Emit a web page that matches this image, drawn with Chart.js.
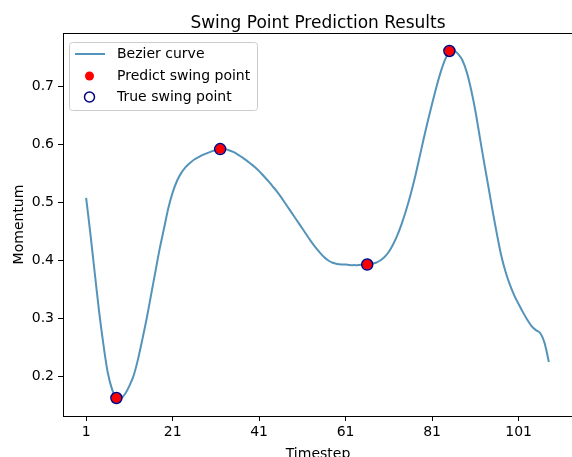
<!DOCTYPE html>
<html lang="en">
<head>
<meta charset="UTF-8">
<title>Swing Point Prediction Results</title>
<script src="https://cdn.jsdelivr.net/npm/chart.js@4.4.1/dist/chart.umd.min.js"></script>
<style>
  html, body { margin: 0; padding: 0; background: #fff; }
  #wrap { width: 572px; height: 457px; position: relative; }
</style>
</head>
<body>
<div id="wrap"><canvas id="chart"></canvas></div>
<script>
// Bezier-smoothed momentum, one value per timestep starting at 1
const momentum = [
  0.508, 0.445, 0.378, 0.312, 0.255, 0.207, 0.178, 0.163, 0.162, 0.170,
  0.184, 0.202, 0.230, 0.264, 0.300, 0.340, 0.380, 0.420, 0.455, 0.490,
  0.517, 0.537, 0.551, 0.561, 0.568, 0.574, 0.578, 0.582, 0.585, 0.588,
  0.590, 0.592, 0.592, 0.590, 0.587, 0.583, 0.578, 0.573, 0.567, 0.561,
  0.554, 0.546, 0.538, 0.529, 0.520, 0.510, 0.499, 0.488, 0.477, 0.466,
  0.455, 0.444, 0.433, 0.423, 0.414, 0.406, 0.400, 0.396, 0.394, 0.393,
  0.393, 0.392, 0.392, 0.392, 0.393, 0.393, 0.394, 0.396, 0.400, 0.406,
  0.415, 0.428, 0.444, 0.464, 0.487, 0.513, 0.542, 0.575, 0.608, 0.640,
  0.670, 0.699, 0.725, 0.746, 0.760, 0.762, 0.756, 0.745, 0.725, 0.695,
  0.658, 0.614, 0.570, 0.528, 0.485, 0.445, 0.408, 0.380, 0.358, 0.340,
  0.325, 0.311, 0.298, 0.287, 0.280, 0.275, 0.258, 0.225
];
const firstStep = 1;

// swing points (predicted and ground truth coincide)
const swingSteps = [8, 32, 66, 85];
const predictMomentum = [0.163, 0.592, 0.393, 0.761];
const trueMomentum = [0.163, 0.592, 0.393, 0.761];

const xTicks = [1, 21, 41, 61, 81, 101];
const yTicks = [0.2, 0.3, 0.4, 0.5, 0.6, 0.7];

const curveColor = 'rgb(84,147,186)';
const FONT = 'DejaVu Sans';

const curvePoints = momentum.map((v, i) => ({ x: firstStep + i, y: v }));
const predictPoints = swingSteps.map((s, i) => ({ x: s, y: predictMomentum[i] }));
const truePoints = swingSteps.map((s, i) => ({ x: s, y: trueMomentum[i] }));

// frame, title, axis titles and the boxed legend
const decorations = {
  id: 'decorations',
  afterDatasetsDraw(chart) {
    const { ctx, chartArea: a } = chart;
    ctx.save();
    ctx.strokeStyle = '#000';
    ctx.lineWidth = 1;
    ctx.beginPath();
    ctx.moveTo(a.left, a.top + 0.5);
    ctx.lineTo(a.right, a.top + 0.5);
    ctx.stroke();

    ctx.fillStyle = '#000';
    ctx.textAlign = 'center';
    ctx.textBaseline = 'alphabetic';
    ctx.font = `17px "${FONT}"`;
    ctx.fillText('Swing Point Prediction Results', 318, 27.5);

    ctx.font = `14px "${FONT}"`;
    ctx.fillText('Timestep', 318, 458);
    ctx.save();
    ctx.translate(23, (a.top + a.bottom) / 2);
    ctx.rotate(-Math.PI / 2);
    ctx.fillText('Momentum', 0, 0);
    ctx.restore();

    // legend
    const lx = 69, ly = 42, lw = 188, lh = 68;
    ctx.beginPath();
    ctx.roundRect(lx + 0.5, ly + 0.5, lw, lh, 3);
    ctx.fillStyle = 'rgba(255,255,255,0.8)';
    ctx.fill();
    ctx.strokeStyle = '#cccccc';
    ctx.stroke();

    const rows = [54, 76, 97];
    ctx.strokeStyle = curveColor;
    ctx.lineWidth = 2;
    ctx.beginPath();
    ctx.moveTo(75, rows[0]);
    ctx.lineTo(105, rows[0]);
    ctx.stroke();

    ctx.fillStyle = 'red';
    ctx.beginPath();
    ctx.arc(89.5, rows[1], 4.5, 0, Math.PI * 2);
    ctx.fill();

    ctx.strokeStyle = 'navy';
    ctx.lineWidth = 1.5;
    ctx.beginPath();
    ctx.arc(89.5, rows[2], 5, 0, Math.PI * 2);
    ctx.stroke();

    ctx.fillStyle = '#000';
    ctx.textAlign = 'left';
    ctx.textBaseline = 'middle';
    ctx.font = `14px "${FONT}"`;
    ctx.fillText('Bezier curve', 117, rows[0]);
    ctx.fillText('Predict swing point', 117, rows[1]);
    ctx.fillText('True swing point', 117, rows[2]);
    ctx.restore();
  }
};

new Chart(document.getElementById('chart'), {
  type: 'line',
  data: {
    datasets: [
      {
        label: 'True swing point',
        type: 'scatter',
        data: truePoints,
        showLine: false,
        pointRadius: 5.5,
        pointBackgroundColor: 'rgba(0,0,0,0)',
        pointBorderColor: 'navy',
        pointBorderWidth: 1.5,
        order: 1
      },
      {
        label: 'Predict swing point',
        type: 'scatter',
        data: predictPoints,
        showLine: false,
        pointRadius: 5,
        pointBackgroundColor: 'red',
        pointBorderWidth: 0,
        order: 2
      },
      {
        label: 'Bezier curve',
        data: curvePoints,
        borderColor: curveColor,
        borderWidth: 2,
        pointRadius: 0,
        tension: 0.3,
        order: 3
      }
    ]
  },
  options: {
    responsive: true,
    maintainAspectRatio: false,
    animation: false,
    layout: { autoPadding: false, padding: { top: 33, right: 0, bottom: 0, left: 0 } },
    plugins: {
      legend: { display: false },
      title: { display: false },
      tooltip: { enabled: false }
    },
    scales: {
      x: {
        type: 'linear',
        min: -4.35,
        max: 113.35,
        afterBuildTicks: (scale) => { scale.ticks = xTicks.map(v => ({ value: v })); },
        afterFit: (scale) => { scale.height = 41; },
        grid: { drawOnChartArea: false, drawTicks: true, tickLength: 5, color: '#000' },
        border: { display: true, color: '#000', width: 1 },
        ticks: { color: '#000', font: { family: FONT, size: 14 }, padding: 3, maxRotation: 0 }
      },
      y: {
        min: 0.132,
        max: 0.792,
        afterBuildTicks: (scale) => { scale.ticks = yTicks.map(v => ({ value: v })); },
        afterFit: (scale) => { scale.width = 63; },
        grid: { drawOnChartArea: false, drawTicks: true, tickLength: 5, color: '#000' },
        border: { display: true, color: '#000', width: 1 },
        ticks: {
          color: '#000',
          font: { family: FONT, size: 14 },
          padding: 4,
          callback: (v) => v.toFixed(1)
        }
      }
    }
  },
  plugins: [decorations]
});
</script>
</body>
</html>
